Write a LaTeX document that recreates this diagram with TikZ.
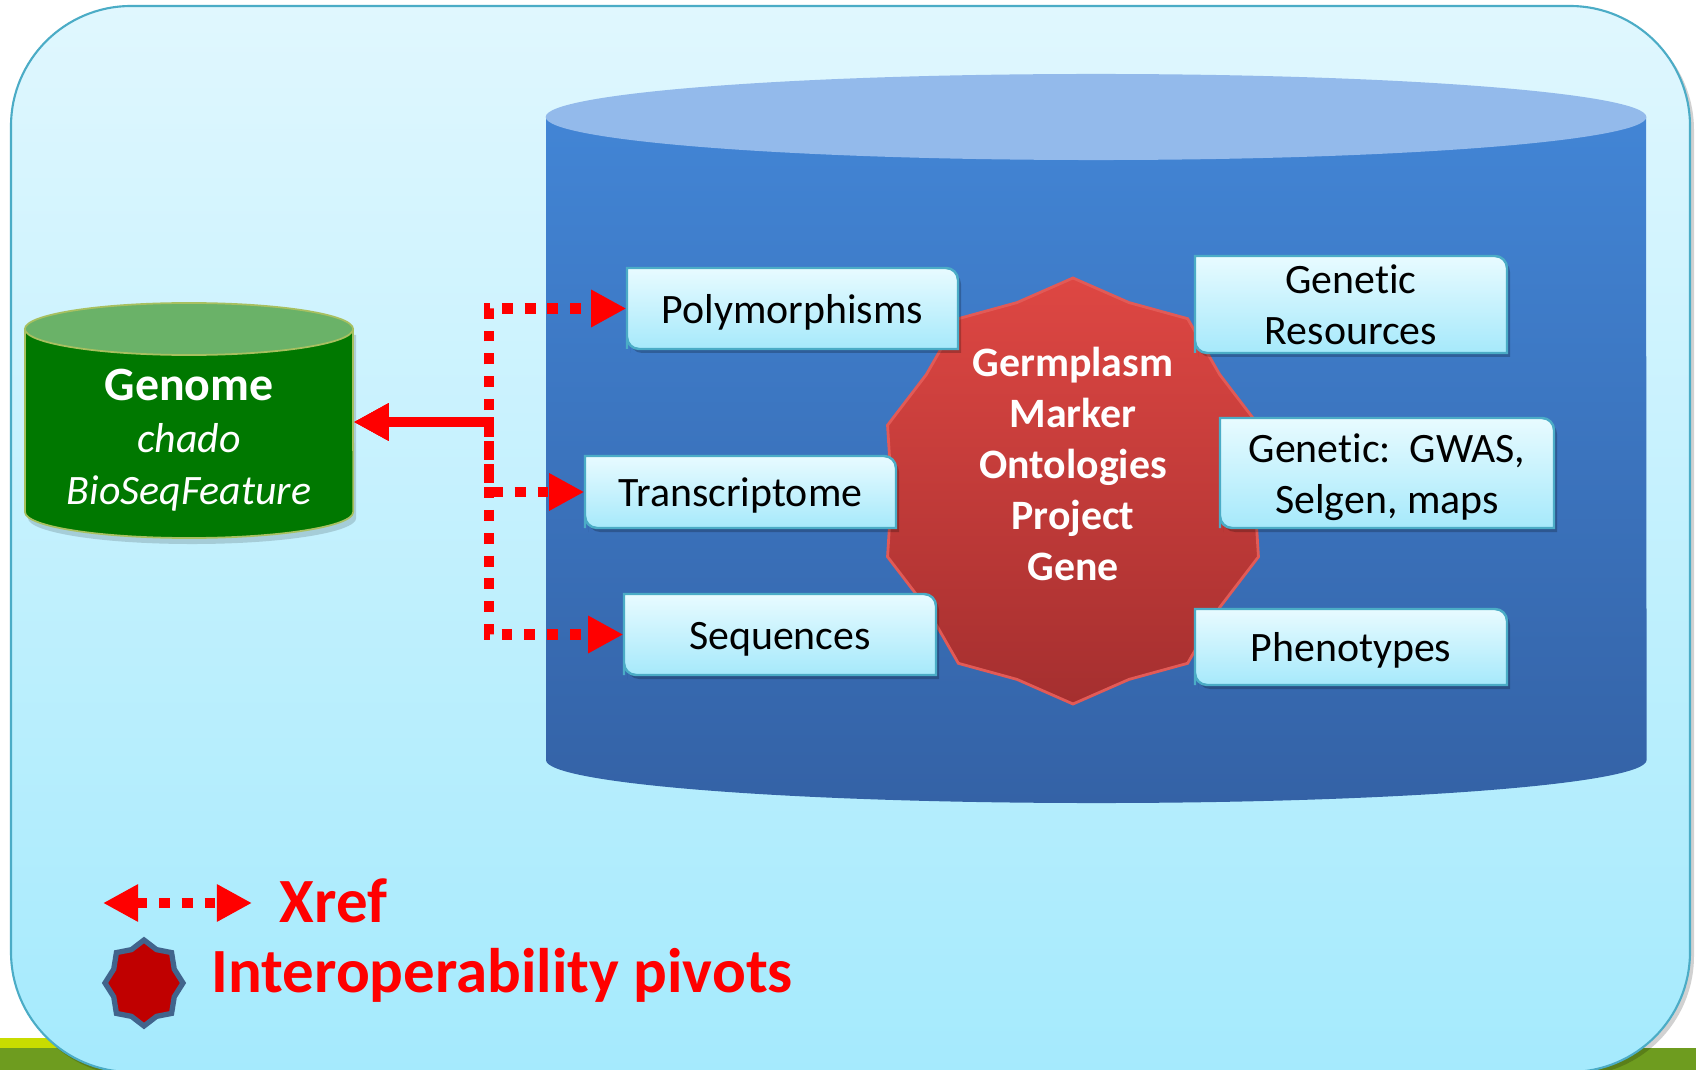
\documentclass[tikz,border=0pt]{standalone}
\usepackage{fontspec}
\setmainfont{Carlito}[RawFeature={-liga}]
\usetikzlibrary{arrows.meta}
\definecolor{outerTop}{HTML}{E0F7FE}
\definecolor{outerBot}{HTML}{A5EAFD}
\definecolor{outerLine}{HTML}{4BACC6}
\definecolor{stripYellow}{HTML}{C8DC00}
\definecolor{stripGreen}{HTML}{6E9C1F}
\definecolor{cylTop}{HTML}{93BAEB}
\definecolor{cylBodyTop}{HTML}{4285D5}
\definecolor{cylBodyBot}{HTML}{3462A6}
\definecolor{genomeTop}{HTML}{6AB268}
\definecolor{genomeBody}{HTML}{007800}
\definecolor{genomeLine}{HTML}{A8C060}
\definecolor{boxTop}{HTML}{E8FBFF}
\definecolor{boxBot}{HTML}{A6E9FB}
\definecolor{boxLine}{HTML}{4BACC6}
\definecolor{starTop}{HTML}{DE4743}
\definecolor{starBot}{HTML}{A52F2F}
\definecolor{starEdge}{HTML}{E25A56}
\definecolor{xrefRed}{HTML}{FF0000}
\definecolor{pivotFill}{HTML}{C00000}
\definecolor{pivotLine}{HTML}{41648C}

\newcommand\myTop{\rule{0pt}{1.05em}}
\newcommand\myBot{\rule[-0.35em]{0pt}{0.35em}}

\tikzset{
  boxshape/.style={top color=boxTop, bottom color=boxBot, draw=boxLine, line width=0.7pt},
  boxtext/.style={inner sep=0pt, align=center, text=black, font=\fontsize{11.9pt}{14.5pt}\selectfont},
  startext/.style={inner sep=0pt, align=center, text=white, font=\fontsize{11.9pt}{14.5pt}\selectfont\bfseries},
  legtext/.style={inner sep=0pt, anchor=base west, text=xrefRed, font=\fontsize{17.9pt}{21pt}\selectfont\bfseries},
  xref/.style={draw=xrefRed, line width=3.1pt, dash pattern=on 3.1pt off 3.4pt,
    arrows={Triangle[length=10pt,width=10pt]-Triangle[length=10pt,width=10pt]}},
}

% name, x1, y1, x2, y2, text
\newcommand\dbox[6]{%
  \path[fill=black, opacity=0.22, shift={(3,4)}] (#2,#5) -- (#2,#3) [rounded corners=0.12cm] -- (#4,#3) [sharp corners] -- (#4,#5) [rounded corners=0.12cm] -- (#2,#5) [sharp corners] -- cycle;
  \path[boxshape] (#2,#5) -- (#2,#3) [rounded corners=0.12cm] -- (#4,#3) [sharp corners] -- (#4,#5) [rounded corners=0.12cm] -- (#2,#5) [sharp corners] -- cycle;
  \node[boxtext, minimum width={(#4-#2)*0.01cm}, minimum height={(#5-#3)*0.01cm}] (#1) at ({(#2+#4)/2},{(#3+#5)/2}) {\myTop#6\myBot};
}

\begin{document}
\begin{tikzpicture}[x=0.01cm, y=-0.01cm]
\useasboundingbox (0,0) rectangle (1696,1070);
\fill[white] (0,0) rectangle (1696,1070);

% bottom strips
\fill[stripYellow] (0,1038) rectangle (900,1048);
\fill[stripGreen] (0,1048) rectangle (1696,1070);

% outer rounded panel
\path[fill=black, opacity=0.18, rounded corners=1.2cm] (14,10) rectangle (1694,1076);
\path[draw=outerLine, line width=0.6pt, top color=outerTop, bottom color=outerBot, rounded corners=1.2cm] (11,6) rectangle (1690,1072);

% big blue cylinder
\path[top color=cylBodyTop, bottom color=cylBodyBot] (546,117) -- (546,760) arc[start angle=180, end angle=360, x radius=5.5cm, y radius=0.43cm] -- (1646,117) -- cycle;
\fill[cylTop] (1096,117) ellipse[x radius=5.5cm, y radius=0.43cm];

% red star (interoperability pivots)
\path[top color=starTop, bottom color=starBot, draw=starEdge, line width=0.8pt]
  plot[samples at={0,...,19}, variable=\idx]
  ({1073+ifthenelse(mod(\idx,2)==0,1,0.93)*195*cos(90+18*\idx)},
   {491-ifthenelse(mod(\idx,2)==0,1,0.93)*213*sin(90+18*\idx)}) -- cycle;
\node[startext] (pivot) at (1073,464) {\myTop Germplasm\\Marker\\Ontologies\\Project\\Gene\myBot};

% boxes
\dbox{poly}{627}{268}{958}{349}{Polymorphisms}
\dbox{trans}{585}{456}{896}{528}{Transcriptome}
\dbox{seqs}{624}{594}{936}{675}{Sequences}
\dbox{genres}{1195}{256}{1507}{353}{Genetic\\Resources}
\dbox{gwas}{1220}{418}{1554}{528}{Genetic:\ \ GWAS,\\Selgen, maps}
\dbox{pheno}{1195}{609}{1507}{685}{Phenotypes}

% genome cylinder
\path[fill=black, opacity=0.15, shift={(3,6)}] (25,329) -- (25,512) arc[start angle=180, end angle=360, x radius=1.64cm, y radius=0.26cm] -- (353,329) -- cycle;
\path[fill=genomeBody, draw=genomeLine, line width=0.5pt] (25,329) -- (25,512) arc[start angle=180, end angle=360, x radius=1.64cm, y radius=0.26cm] -- (353,329) -- cycle;
\path[fill=genomeTop, draw=genomeLine, line width=0.5pt] (189,329) ellipse[x radius=1.64cm, y radius=0.26cm];
\node[inner sep=0pt, align=center, text=white, minimum width={328*0.01cm}, font=\fontsize{11.9pt}{14.8pt}\selectfont] (genome) at (189,422)
  {\rule{0pt}{21.3pt}{\fontsize{13.6pt}{14.8pt}\selectfont\bfseries Genome}\\{\itshape chado}\\{\itshape BioSeqFeature}\rule[-4.2pt]{0pt}{4.2pt}};

% connectors
\coordinate (elbow) at (489,0);
\draw[xref] (genome.east) -- (genome.east -| elbow) |- (poly.west);
\draw[xref, dash phase=2.2pt] (genome.east) -- (genome.east -| elbow) |- (trans.west);
\draw[xref, dash phase=4.4pt] (genome.east) -- (genome.east -| elbow) |- (seqs.west);

% legend
\coordinate (legL) at (103,903);
\coordinate (legR) at (252,903);
\draw[xref] (legL) -- (legR);
\node[legtext] (xreftxt) at (279,922) {Xref};
\path[fill=pivotFill, draw=pivotLine, line width=1.5pt]
  plot[samples at={0,...,15}, variable=\idx]
  ({144+ifthenelse(mod(\idx,2)==0,1,0.84)*39*cos(90+22.5*\idx)},
   {983-ifthenelse(mod(\idx,2)==0,1,0.84)*43*sin(90+22.5*\idx)}) -- cycle;
\node[legtext] (pivtxt) at (211,992) {Interoperability pivots};
\end{tikzpicture}
\end{document}
